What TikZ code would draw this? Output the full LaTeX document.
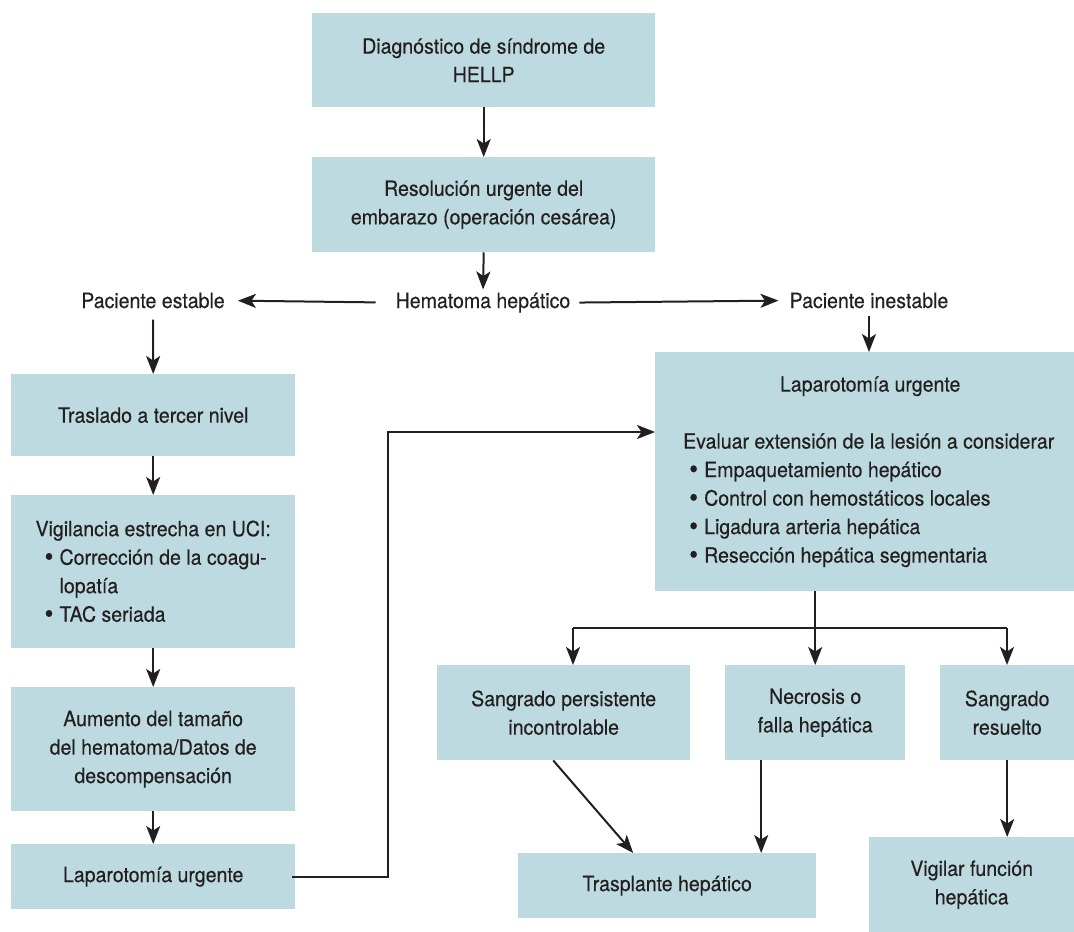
\documentclass[tikz,border=0pt]{standalone}
\usepackage{fontspec}
\setmainfont{TeX Gyre Heros}[FakeStretch=0.93,FakeBold=0.3]
\usetikzlibrary{arrows.meta,calc}
\definecolor{boxfill}{RGB}{188,218,223}
\definecolor{ink}{RGB}{35,31,32}
\newcommand\rpre{\hspace*{11pt}}
\newcommand\bigbul{\raisebox{-1.2pt}{\scalebox{1.3}{•}}}
\newcommand\bulA{\hspace*{9pt}\makebox[15pt][l]{\bigbul}}
\newcommand\bulB{\hspace*{6pt}\makebox[15pt][l]{\bigbul}}
\begin{document}
\begin{tikzpicture}[x=1pt,y=-1pt,
  every node/.style={font=\fontsize{21pt}{28.5pt}\selectfont, text=ink},
  box/.style={fill=boxfill, draw=none, anchor=north west, align=center, inner sep=0pt},
  lbl/.style={inner sep=0pt, anchor=base},
  arr/.style={draw=ink, line width=2pt, -{Stealth[length=18pt,width=14pt,inset=4.5pt]}},
  ln/.style={draw=ink, line width=2pt}]
\useasboundingbox (0,0) rectangle (1074,932);

% boxes
\node[box, minimum width=343pt, minimum height=94pt] (diag) at (312,13) {Diagnóstico de síndrome de\\HELLP};
\node[box, minimum width=343pt, minimum height=95pt] (resol) at (312,157) {Resolución urgente del\\embarazo (operación cesárea)};
\node[box, minimum width=284pt, minimum height=82pt] (trasl) at (11,374) {Traslado a tercer nivel};
\node[box, align=left, minimum width=284pt, minimum height=153pt] (vigil) at (11,495)
  {Vigilancia estrecha en UCI:\\\bulA Corrección de la coagu-\\\hspace*{24pt}lopatía\\\bulA TAC seriada};
\node[box, minimum width=284pt, minimum height=124pt] (aument) at (11,687) {Aumento del tamaño\\del hematoma/Datos de\\descompensación};
\node[box, minimum width=284pt, minimum height=65pt] (lapL) at (11,844) {Laparotomía urgente};
\node[box, align=left, minimum width=419pt, minimum height=239pt] (lapR) at (655,352)
  {\rpre\makebox[374pt][c]{Laparotomía urgente}\\[28.5pt]
   \rpre Evaluar extensión de la lesión a considerar\\
   \rpre\bulB Empaquetamiento hepático\\
   \rpre\bulB Control con hemostáticos locales\\
   \rpre\bulB Ligadura arteria hepática\\
   \rpre\bulB Resección hepática segmentaria};
\node[box, minimum width=253pt, minimum height=95pt] (sangP) at (437,665) {Sangrado persistente\\incontrolable};
\node[box, minimum width=180pt, minimum height=95pt] (necro) at (725,665) {Necrosis o\\falla hepática};
\node[box, minimum width=134pt, minimum height=95pt] (sangR) at (940,665) {Sangrado\\resuelto};
\node[box, minimum width=298pt, minimum height=65pt] (trasp) at (518,853) {Trasplante hepático};
\node[box, minimum width=205pt, minimum height=95pt] (vigf) at (869,837) {Vigilar función\\hepática};

% free labels
\node[lbl] (hemat) at (483,308) {Hematoma hepático};
\node[lbl] (pest) at (153,308) {Paciente estable};
\node[lbl] (pinest) at (869,308) {Paciente inestable};

% helper coordinates
\coordinate (bend) at (388,432);
\coordinate (hl) at (573,628);
\coordinate (hr) at (1007,628);
\coordinate (nx) at ($(necro.south)+(-54,0)$);
\coordinate (px) at ($(sangP.south)+(-10.5,0)$);
\coordinate (tx) at ($(trasp.north)+(-34,0)$);

% connectors
\draw[arr] (diag) -- (resol);
\draw[arr, shorten >=3pt] (resol.south) -- (hemat.north);
\draw[arr, shorten <=20pt, shorten >=13pt] (hemat.west) -- (pest.east);
\draw[arr, shorten <=9pt, shorten >=11pt] (hemat.east) -- (pinest.west);
\draw[arr, shorten <=11pt] (pest.south) -- (trasl.north);
\draw[arr, shorten <=7pt] (pinest.south) -- (pinest.south |- lapR.north);
\draw[arr] (trasl) -- (vigil);
\draw[arr] (vigil) -- (aument);
\draw[arr] (aument) -- (lapL);
\draw[arr, shorten <=-3pt] (lapL.east) -| (bend) -- (bend -| lapR.west);
\draw[arr] (lapR.south -| necro.north) -- (necro.north);
\draw[ln] (hl) -- (hr);
\draw[arr] (hl) -- (hl |- sangP.north);
\draw[arr] (hr) -- (hr |- sangR.north);
\draw[arr] (px) -- (tx);
\draw[arr] (nx) -- (nx |- trasp.north);
\draw[arr] (sangR.south) -- (sangR.south |- vigf.north);
\end{tikzpicture}
\end{document}
